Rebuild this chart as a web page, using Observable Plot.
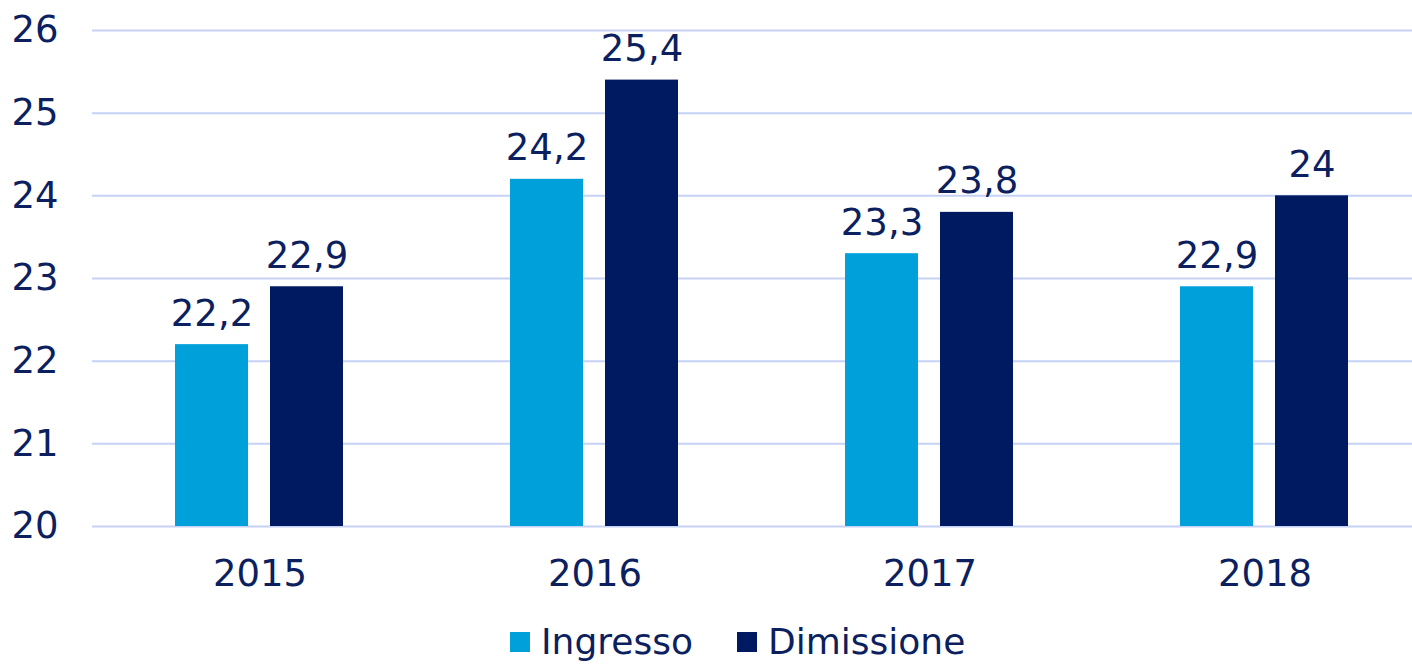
<!DOCTYPE html>
<html>
<head>
<meta charset="utf-8">
<script src="https://cdn.jsdelivr.net/npm/d3@7"></script>
<script src="https://cdn.jsdelivr.net/npm/@observablehq/plot@0.6"></script>
<style>
  html, body { margin: 0; padding: 0; background: #fff; overflow: hidden; }
  #wrap { position: relative; width: 1412px; height: 665px; overflow: hidden; font-family: "DejaVu Sans", Verdana, sans-serif; }
  #chart svg { max-width: none !important; height: 610px !important; width: 1432px !important; display: block; }
  #legend { position: absolute; left: 510px; top: 621px; display: flex; align-items: center; font-size: 36px; color: #0c1f5f; white-space: nowrap; }
  .sw { width: 20px; height: 20px; display: inline-block; margin-right: 11px; }
  .item { display: flex; align-items: center; margin-right: 44px; }
</style>
</head>
<body>
<div id="wrap"><div id="chart"></div><div id="legend"></div></div>
<script>
const years = ["2015", "2016", "2017", "2018"];
const seriesNames = ["Ingresso", "Dimissione"];
const ingresso = [22.2, 24.2, 23.3, 22.9];
const dimissione = [22.9, 25.4, 23.8, 24];
const colors = ["#00a1da", "#001a62"];
const yTicks = [20, 21, 22, 23, 24, 25, 26];

const data = [];
years.forEach((y, i) => {
  data.push({year: y, series: seriesNames[0], value: ingresso[i]});
  data.push({year: y, series: seriesNames[1], value: dimissione[i]});
});
const fmt = v => String(v).replace(".", ",");
const textColor = "#0c1f5f";

const chart = Plot.plot({
  width: 1432,
  height: 610,
  marginLeft: 92,
  marginRight: 0,
  marginTop: 30,
  marginBottom: 84,
  style: {fontFamily: "'DejaVu Sans', Verdana, sans-serif", fontSize: "37px", color: textColor, background: "#fff"},
  fx: {domain: years, padding: 0, label: null},
  x: {domain: seriesNames, paddingInner: 0.23, paddingOuter: 0.86, axis: null},
  y: {domain: [20, 26], label: null},
  color: {domain: seriesNames, range: colors},
  marks: [
    Plot.ruleY(yTicks, {stroke: "#c5d2f6", strokeWidth: 2}),
    Plot.axisY({ticks: yTicks, tickFormat: d => String(d), tickSize: 0, tickPadding: 34, label: null, fontSize: 37, fill: textColor}),
    Plot.axisFx({anchor: "bottom", tickSize: 0, tickPadding: 33, label: null, fontSize: 37, fill: textColor}),
    Plot.barY(data, {fx: "year", x: "series", y1: 20, y2: "value", fill: "series"}),
    Plot.text(data, {fx: "year", x: "series", y: "value", text: d => fmt(d.value), lineAnchor: "bottom", dy: -19, fill: textColor, fontSize: 37})
  ]
});
document.getElementById("chart").appendChild(chart);

const legend = document.getElementById("legend");
seriesNames.forEach((s, i) => {
  const it = document.createElement("div");
  it.className = "item";
  const sw = document.createElement("span");
  sw.className = "sw";
  sw.style.background = colors[i];
  const t = document.createElement("span");
  t.textContent = s;
  it.appendChild(sw); it.appendChild(t);
  legend.appendChild(it);
});
</script>
</body>
</html>
